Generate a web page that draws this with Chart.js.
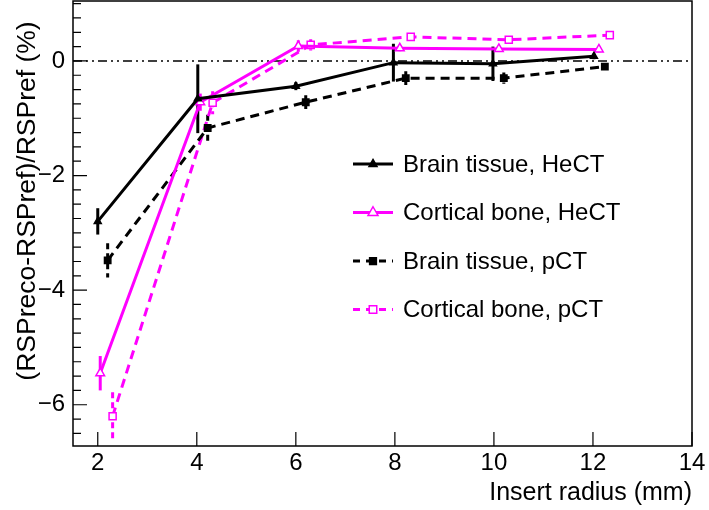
<!DOCTYPE html>
<html>
<head>
<meta charset="utf-8">
<script src="https://cdn.jsdelivr.net/npm/chart.js@4.4.1/dist/chart.umd.min.js"></script>
<style>
  body { margin: 0; background: #fff; }
  canvas { display: block; }
</style>
</head>
<body>
<canvas id="c" width="709" height="510"></canvas>
<script>
const FONT = '"Liberation Sans", Arial, sans-serif';
const MAGENTA = '#ff00ff';

// tick labels
const xTicks = [2, 4, 6, 8, 10, 12, 14];
const yTicks = [-6, -4, -2, 0];

// series (x = insert radius in mm, y = relative RSP error in %)
const seriesNames = ['Brain tissue, HeCT', 'Cortical bone, HeCT', 'Brain tissue, pCT', 'Cortical bone, pCT'];

const brainHeCTx = [2.0, 4.02, 6.0, 7.97, 9.98, 12.02];
const brainHeCTy = [-2.8, -0.66, -0.44, -0.03, -0.05, 0.08];
const brainHeCTerr = [0.23, 0.6, 0.07, 0.33, 0.3, 0.05];

const corticalHeCTx = [2.05, 4.07, 6.05, 8.1, 10.1, 12.12];
const corticalHeCTy = [-5.45, -0.72, 0.26, 0.22, 0.21, 0.2];
const corticalHeCTerr = [0.3, 0.15, 0.1, 0.05, 0.05, 0.05];

const brainPCTx = [2.2, 4.22, 6.2, 8.22, 10.2, 12.24];
const brainPCTy = [-3.48, -1.17, -0.72, -0.3, -0.3, -0.1];
const brainPCTerr = [0.3, 0.23, 0.12, 0.12, 0.1, 0.06];

const corticalPCTx = [2.3, 4.32, 6.3, 8.32, 10.3, 12.34];
const corticalPCTy = [-6.2, -0.73, 0.28, 0.42, 0.37, 0.45];
const corticalPCTerr = [0.42, 0.2, 0.1, 0.06, 0.06, 0.06];

const pts = (xs, ys) => xs.map((x, i) => ({ x: x, y: ys[i] }));

const makeSet = (label, xs, ys, errs, color, dash, style, filled, radius) => ({
  label: label,
  data: pts(xs, ys),
  errors: errs,
  borderColor: color,
  backgroundColor: filled ? color : '#ffffff',
  borderWidth: 3,
  borderDash: dash,
  pointStyle: style,
  pointRadius: radius,
  pointBorderWidth: 1.5,
  pointBackgroundColor: filled ? color : '#ffffff',
  pointBorderColor: color,
  tension: 0
});

const datasets = [
  makeSet(seriesNames[0], brainHeCTx, brainHeCTy, brainHeCTerr, '#000000', [], 'triangle', true, 4),
  makeSet(seriesNames[1], corticalHeCTx, corticalHeCTy, corticalHeCTerr, MAGENTA, [], 'triangle', false, 5),
  makeSet(seriesNames[2], brainPCTx, brainPCTy, brainPCTerr, '#000000', [9, 6], 'rect', true, 4.5),
  makeSet(seriesNames[3], corticalPCTx, corticalPCTy, corticalPCTerr, MAGENTA, [9, 6], 'rect', false, 5)
];

function marker(ctx, ds, x, y) {
  ctx.save();
  ctx.setLineDash([]);
  ctx.lineWidth = ds.pointBorderWidth;
  ctx.strokeStyle = ds.pointBorderColor;
  ctx.fillStyle = ds.pointBackgroundColor;
  const r = ds.pointRadius;
  ctx.beginPath();
  if (ds.pointStyle === 'triangle') {
    ctx.moveTo(x, y - r * 1.15);
    ctx.lineTo(x + r, y + r * 0.6);
    ctx.lineTo(x - r, y + r * 0.6);
    ctx.closePath();
  } else {
    ctx.rect(x - r * 0.75, y - r * 0.75, r * 1.5, r * 1.5);
  }
  ctx.fill();
  ctx.stroke();
  ctx.restore();
}

// keep the plot frame where the reference has it
const fixBox = (s, size) => {
  if (s.isHorizontal()) s.height = size; else s.width = size;
  s.paddingTop = 0;
  s.paddingBottom = 0;
  s.paddingLeft = 0;
  s.paddingRight = 0;
};

const decor = {
  id: 'decor',
  beforeDatasetsDraw(chart) {
    const ctx = chart.ctx;
    const a = chart.chartArea;
    const xs = chart.scales.x, ys = chart.scales.y;
    // zero reference line
    ctx.save();
    ctx.strokeStyle = '#000';
    ctx.lineWidth = 1.5;
    ctx.setLineDash([9, 4, 2, 4, 2, 4]);
    ctx.beginPath();
    ctx.moveTo(a.left, ys.getPixelForValue(0));
    ctx.lineTo(a.right, ys.getPixelForValue(0));
    ctx.stroke();
    ctx.restore();
    // error bars
    chart.data.datasets.forEach(ds => {
      ctx.save();
      ctx.strokeStyle = ds.borderColor;
      ctx.lineWidth = 3;
      ctx.setLineDash(ds.borderDash.length ? [6, 4] : []);
      ds.data.forEach((p, i) => {
        const px = xs.getPixelForValue(p.x);
        ctx.beginPath();
        ctx.moveTo(px, ys.getPixelForValue(p.y + ds.errors[i]));
        ctx.lineTo(px, ys.getPixelForValue(p.y - ds.errors[i]));
        ctx.stroke();
      });
      ctx.restore();
    });
  },
  afterDraw(chart) {
    const ctx = chart.ctx;
    const a = chart.chartArea;
    const xs = chart.scales.x, ys = chart.scales.y;
    ctx.save();
    // frame
    ctx.strokeStyle = '#000';
    ctx.lineWidth = 1.5;
    ctx.strokeRect(a.left, a.top, a.right - a.left, a.bottom - a.top);
    // inward ticks
    ctx.lineWidth = 1.2;
    ctx.beginPath();
    xTicks.forEach(v => {
      const px = xs.getPixelForValue(v);
      ctx.moveTo(px, a.bottom);
      ctx.lineTo(px, a.bottom - 14);
    });
    for (let v = -6.5; v <= 1.0; v += 0.25) {
      const py = ys.getPixelForValue(v);
      const major = yTicks.includes(v);
      ctx.moveTo(a.left, py);
      ctx.lineTo(a.left + (major ? 14 : 8), py);
    }
    ctx.stroke();
    // axis titles
    ctx.fillStyle = '#000';
    ctx.font = '25px ' + FONT;
    ctx.textAlign = 'right';
    ctx.textBaseline = 'middle';
    ctx.fillText('Insert radius (mm)', a.right, 493);
    ctx.save();
    ctx.translate(28, 201);
    ctx.rotate(-Math.PI / 2);
    ctx.textAlign = 'center';
    ctx.font = '26.5px ' + FONT;
    ctx.fillText('(RSPreco-RSPref)/RSPref (%)', 0, 0);
    ctx.restore();
    // legend
    ctx.font = '24px ' + FONT;
    ctx.textAlign = 'left';
    chart.data.datasets.forEach((ds, i) => {
      const y = 164 + i * 48.5;
      ctx.save();
      ctx.strokeStyle = ds.borderColor;
      ctx.lineWidth = 3;
      ctx.setLineDash(ds.borderDash.length ? [7, 6] : []);
      ctx.beginPath();
      ctx.moveTo(353, y);
      ctx.lineTo(393, y);
      ctx.stroke();
      ctx.restore();
      marker(ctx, ds, 373, y);
      ctx.fillStyle = '#000';
      ctx.fillText(ds.label, 403, y + 1);
    });
    ctx.restore();
  }
};

new Chart(document.getElementById('c'), {
  type: 'line',
  data: { datasets: datasets },
  options: {
    responsive: false,
    animation: false,
    layout: { autoPadding: false, padding: { top: 1, right: 17, left: 0, bottom: 0 } },
    plugins: { legend: { display: false }, tooltip: { enabled: false } },
    scales: {
      x: {
        type: 'linear',
        min: 1.5,
        max: 14,
        afterFit: s => fixBox(s, 64),
        afterBuildTicks: s => { s.ticks = xTicks.map(v => ({ value: v })); },
        grid: { display: false, drawTicks: false },
        border: { display: false },
        ticks: { color: '#000', font: { family: FONT, size: 24 }, padding: 3, maxRotation: 0, autoSkip: false }
      },
      y: {
        type: 'linear',
        min: -6.72,
        max: 1.046,
        afterFit: s => fixBox(s, 73),
        afterBuildTicks: s => { s.ticks = yTicks.map(v => ({ value: v })); },
        grid: { display: false, drawTicks: false },
        border: { display: false },
        ticks: {
          color: '#000',
          font: { family: FONT, size: 24 },
          padding: 8,
          callback: v => v < 0 ? '\u2212' + Math.abs(v) : String(v)
        }
      }
    }
  },
  plugins: [decor]
});
</script>
</body>
</html>
